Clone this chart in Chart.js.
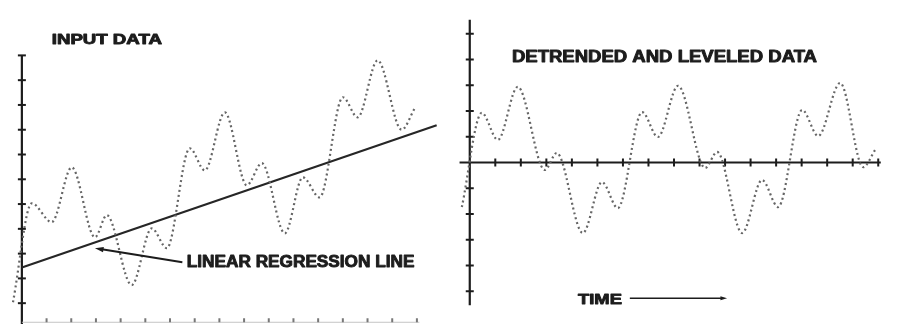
<!DOCTYPE html>
<html>
<head>
<meta charset="utf-8">
<script src="https://cdn.jsdelivr.net/npm/chart.js@4.4.1/dist/chart.umd.min.js"></script>
<style>
html, body { margin: 0; padding: 0; background: #fff; }
#wrap { position: relative; width: 899px; height: 324px; }
#inputChart { position: absolute; left: 0; top: 0; }
#detrendChart { position: absolute; left: 450px; top: 0; }
</style>
</head>
<body>
<div id="wrap">
  <canvas id="inputChart" width="450" height="324"></canvas>
  <canvas id="detrendChart" width="449" height="324"></canvas>
</div>
<script>
// Left panel: raw input (turning points)
var inputTime  = [-0.36, 0.40, 1.21, 2.02, 2.96, 3.44, 4.45, 5.26, 5.87, 6.80, 7.41, 8.22, 9.11, 9.72, 10.65, 11.38, 12.06, 13.00, 13.60, 14.41, 15.38, 15.91];
var inputValue = [1.04, 5.03, 4.27, 6.48, 3.66, 4.55, 1.73, 4.02, 3.22, 7.25, 6.36, 8.70, 5.76, 6.65, 3.82, 6.08, 5.27, 9.31, 8.50, 10.80, 8.00, 8.86];
var regressionTime  = [0, 16.8];
var regressionValue = [2.44, 8.18];

// Right panel: detrended and leveled data
var detrendTime  = [-0.31, 0.47, 1.10, 1.88, 2.94, 3.41, 4.43, 5.18, 5.80, 6.75, 7.37, 8.16, 9.22, 9.69, 10.67, 11.45, 12.08, 13.02, 13.65, 14.51, 15.41, 15.88];
var detrendValue = [-1.73, 1.93, 0.88, 2.94, -0.29, 0.37, -2.74, -0.76, -1.77, 1.96, 0.99, 2.98, -0.21, 0.41, -2.74, -0.68, -1.73, 2.04, 1.03, 3.09, -0.18, 0.49];

// tick positions (no labels in the original)
var timeTicks = [1, 2, 3, 4, 5, 6, 7, 8, 9, 10, 11, 12, 13, 14, 15, 16];
var inputTicks = [1, 2, 3, 4, 5, 6, 7, 8, 9, 10, 11];
var detrendTicks = [-5, -4, -3, -2, -1, 1, 2, 3, 4, 5];

var ink = '#1c1c1c';
var dotted = '#666';

function toPoints(xs, ys) {
  return xs.map(function (x, i) { return { x: x, y: ys[i] }; });
}

// heavy caps text stretched to fit between x0 and x1
function fitText(ctx, text, x0, x1, yc, size) {
  ctx.save();
  ctx.font = 'bold ' + size + 'px "Liberation Sans", Arial, sans-serif';
  var w = ctx.measureText(text).width;
  ctx.translate(x0, yc);
  ctx.scale((x1 - x0) / w, 1);
  ctx.textBaseline = 'middle';
  ctx.fillStyle = ink;
  ctx.strokeStyle = ink;
  ctx.lineWidth = 0.9;
  ctx.lineJoin = 'round';
  ctx.fillText(text, 0, 0);
  ctx.strokeText(text, 0, 0);
  ctx.restore();
}

// line from (x0,y0) to (x1,y1) with a head at the end
function arrow(ctx, x0, y0, x1, y1, lw, head) {
  var a = Math.atan2(y1 - y0, x1 - x0);
  ctx.save();
  ctx.strokeStyle = ink;
  ctx.fillStyle = ink;
  ctx.lineWidth = lw;
  ctx.beginPath();
  ctx.moveTo(x0, y0);
  ctx.lineTo(x1 - Math.cos(a) * head * 0.6, y1 - Math.sin(a) * head * 0.6);
  ctx.stroke();
  ctx.beginPath();
  ctx.moveTo(x1, y1);
  ctx.lineTo(x1 - head * Math.cos(a - 0.3), y1 - head * Math.sin(a - 0.3));
  ctx.lineTo(x1 - head * Math.cos(a + 0.3), y1 - head * Math.sin(a + 0.3));
  ctx.closePath();
  ctx.fill();
  ctx.restore();
}

// axes drawn through the chart's own scales, ticks crossing the axis line
var crossAxes = {
  id: 'crossAxes',
  beforeDatasetsDraw: function (chart, args, o) {
    var ctx = chart.ctx, xs = chart.scales.x, ys = chart.scales.y;
    var ax = xs.getPixelForValue(o.yAxisAt);
    var ay = ys.getPixelForValue(o.xAxisAt);
    ctx.save();
    ctx.lineCap = 'butt';
    // vertical axis
    ctx.strokeStyle = ink;
    ctx.lineWidth = 2.2;
    ctx.beginPath();
    ctx.moveTo(ax, ys.getPixelForValue(o.yRange[0]));
    ctx.lineTo(ax, ys.getPixelForValue(o.yRange[1]));
    ctx.stroke();
    ctx.lineWidth = 2;
    o.yTicks.forEach(function (v) {
      var p = ys.getPixelForValue(v);
      ctx.beginPath();
      ctx.moveTo(ax - 4, p);
      ctx.lineTo(ax + 4, p);
      ctx.stroke();
    });
    // horizontal axis
    ctx.strokeStyle = o.xColor;
    ctx.lineWidth = o.xWidth;
    ctx.beginPath();
    ctx.moveTo(xs.getPixelForValue(o.xRange[0]), ay);
    ctx.lineTo(xs.getPixelForValue(o.xRange[1]), ay);
    ctx.stroke();
    ctx.strokeStyle = o.xTickColor;
    ctx.lineWidth = 2;
    o.xTicks.forEach(function (v) {
      var p = xs.getPixelForValue(v);
      ctx.beginPath();
      ctx.moveTo(p, ay - o.xTickUp);
      ctx.lineTo(p, ay + o.xTickDown);
      ctx.stroke();
    });
    ctx.restore();
  },
  afterDraw: function (chart, args, o) {
    var ctx = chart.ctx, xs = chart.scales.x, ys = chart.scales.y;
    o.labels.forEach(function (l) {
      fitText(ctx, l.text, xs.getPixelForValue(l.x0), xs.getPixelForValue(l.x1), ys.getPixelForValue(l.y), l.size);
    });
    o.arrows.forEach(function (a) {
      arrow(ctx, xs.getPixelForValue(a.x0), ys.getPixelForValue(a.y0),
        xs.getPixelForValue(a.x1), ys.getPixelForValue(a.y1), a.lw, a.head);
    });
  }
};

function curveDataset(points) {
  return {
    data: points,
    borderColor: dotted,
    borderWidth: 2.2,
    borderDash: [2, 3],
    cubicInterpolationMode: 'monotone',
    pointRadius: 0,
    fill: false
  };
}

function baseOptions(xr, yr, pad, axes) {
  return {
    responsive: false,
    animation: false,
    layout: { padding: pad },
    scales: {
      x: { type: 'linear', min: xr[0], max: xr[1], display: false },
      y: { type: 'linear', min: yr[0], max: yr[1], display: false }
    },
    plugins: { legend: { display: false }, tooltip: { enabled: false }, crossAxes: axes }
  };
}

// Left chart: input data with regression line
new Chart(document.getElementById('inputChart').getContext('2d'), {
  type: 'line',
  data: {
    datasets: [
      curveDataset(toPoints(inputTime, inputValue)),
      {
        data: toPoints(regressionTime, regressionValue),
        borderColor: '#262626',
        borderWidth: 2.2,
        pointRadius: 0,
        tension: 0
      }
    ]
  },
  options: baseOptions([-0.4, 17.3], [0.2, 11.5], { left: 12, right: 1, top: 43, bottom: 1 }, {
    yAxisAt: 0, xAxisAt: 0.23,
    yRange: [0.1, 11.0], xRange: [0, 16.1],
    yTicks: inputTicks, xTicks: timeTicks,
    xColor: '#c4c4c4', xWidth: 1, xTickColor: '#777', xTickUp: 4, xTickDown: 0,
    labels: [
      { text: 'INPUT DATA', x0: 1.21, x1: 5.67, y: 11.6, size: 14 },
      { text: 'LINEAR REGRESSION LINE', x0: 6.68, x1: 15.9, y: 2.65, size: 16 }
    ],
    arrows: [{ x0: 6.5, y0: 2.65, x1: 2.96, y1: 3.22, lw: 2, head: 9 }]
  }),
  plugins: [crossAxes]
});

// Right chart: detrended and leveled data
new Chart(document.getElementById('detrendChart').getContext('2d'), {
  type: 'line',
  data: { datasets: [curveDataset(toPoints(detrendTime, detrendValue))] },
  options: baseOptions([-0.5, 16.5], [-6, 6], { left: 7, right: 8, top: 8, bottom: 7 }, {
    yAxisAt: 0, xAxisAt: 0,
    yRange: [-5.54, 5.54], xRange: [-0.4, 16.1],
    yTicks: detrendTicks, xTicks: timeTicks,
    xColor: ink, xWidth: 2.2, xTickColor: ink, xTickUp: 4, xTickDown: 4,
    labels: [
      { text: 'DETRENDED AND LEVELED DATA', x0: 1.65, x1: 13.6, y: 4.07, size: 16 },
      { text: 'TIME', x0: 4.24, x1: 5.96, y: -5.35, size: 15 }
    ],
    arrows: [{ x0: 6.27, y0: -5.27, x1: 10.08, y1: -5.27, lw: 1.5, head: 7 }]
  }),
  plugins: [crossAxes]
});
</script>
</body>
</html>
